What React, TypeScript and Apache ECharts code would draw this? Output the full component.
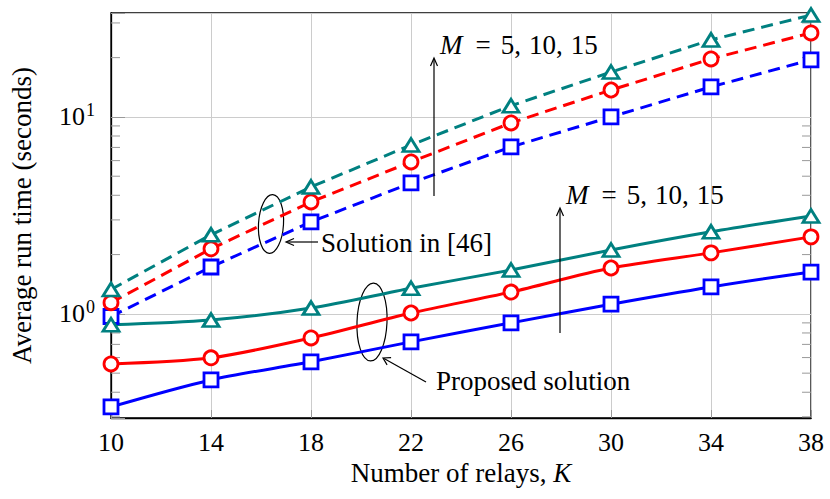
import React, { useEffect, useRef } from "react";
import * as echarts from "echarts";

const relays = ["10", "14", "18", "22", "26", "30", "34", "38"];
const refM15 = [1.33, 2.52, 4.41, 7.2, 11.4, 16.9, 24.6, 32.9];
const refM10 = [1.14, 2.14, 3.7, 5.91, 9.32, 13.7, 19.7, 26.7];
const refM5 = [0.97, 1.73, 2.93, 4.62, 7.04, 10.0, 14.2, 19.5];
const propM15 = [0.88, 0.93, 1.07, 1.35, 1.67, 2.11, 2.61, 3.14];
const propM10 = [0.557, 0.598, 0.755, 1.01, 1.29, 1.71, 2.04, 2.46];
const propM5 = [0.337, 0.462, 0.571, 0.721, 0.9, 1.12, 1.37, 1.63];
const minorTicks = [0.3, 0.4, 0.5, 0.6, 0.7, 0.8, 0.9, 2, 3, 4, 5, 6, 7, 8, 9, 20, 30];
const yMin = 0.296;
const yMax = 33.7;

const FONT = "'Liberation Serif', 'Times New Roman', serif";
const TEAL = "#008080";
const RED = "#ff0000";
const BLUE = "#0000ff";
const FS = 27;

function series(name: string, data: number[], color: string, symbol: string, dashed: boolean) {
  const isTri = symbol === "triangle";
  return {
    name,
    type: "line",
    data,
    smooth: dashed ? false : 0.3,
    symbol,
    symbolSize: isTri ? [16, 13] : 14,
    showAllSymbol: true,
    lineStyle: { color, width: 3, type: dashed ? [12, 7] : "solid" },
    itemStyle: { color: "#ffffff", borderColor: color, borderWidth: 2.8 },
    z: 3,
  };
}

export default function App() {
  const ref = useRef<HTMLDivElement>(null);
  useEffect(() => {
    const chart = echarts.init(ref.current!, undefined, { renderer: "svg" });
    const isPow = (v: number) => {
      const l = Math.log10(v);
      return Math.abs(l - Math.round(l)) < 1e-6;
    };
    const richText = {
      i: { fontStyle: "italic", fontSize: FS, fontFamily: FONT, fill: "#000" },
      n: { fontSize: FS, fontFamily: FONT, fill: "#000" },
      e: { fontSize: FS, fontFamily: FONT, fill: "#000", padding: [0, 10, 0, 13] },
      c: { fontSize: FS, fontFamily: FONT, fill: "#000", padding: [0, 0, 0, 8] },
    };
    const txt = (text: string, x: number, y: number) => ({
      type: "text",
      x,
      y,
      style: {
        text,
        fontSize: FS,
        fontFamily: FONT,
        fill: "#000",
        align: "left",
        verticalAlign: "middle",
        rich: richText,
      },
      z: 10,
    });
    const mText = "{i|M}{e|=}{n|5,}{c|10,}{c|15}";
    const stroke = { stroke: "#000", lineWidth: 1.2, fill: "none" };
    chart.setOption({
      animation: false,
      backgroundColor: "#ffffff",
      grid: {
        left: 107,
        right: 19,
        top: 13,
        bottom: 81,
        show: true,
        borderColor: "#000",
        borderWidth: 1.3,
        backgroundColor: "transparent",
      },
      xAxis: {
        type: "category",
        data: relays,
        boundaryGap: false,
        name: "{n|Number of relays, }{i|K}",
        nameLocation: "middle",
        nameGap: 37,
        nameTextStyle: {
          rich: {
            n: { fontSize: FS, fontFamily: FONT, color: "#000" },
            i: { fontSize: FS, fontFamily: FONT, color: "#000", fontStyle: "italic" },
          },
        },
        axisLine: { show: true, lineStyle: { color: "#000", width: 1.3 } },
        axisTick: { show: true, inside: true, length: 8, lineStyle: { color: "#999" } },
        axisLabel: { color: "#000", fontSize: 26, fontFamily: FONT, margin: 11 },
        splitLine: { show: true, lineStyle: { color: "#cccccc", width: 1 } },
      },
      yAxis: {
        type: "log",
        logBase: 10,
        min: yMin,
        max: yMax,
        name: "Average run time (seconds)",
        nameLocation: "middle",
        nameGap: 76,
        nameTextStyle: { fontSize: FS, fontFamily: FONT, color: "#000" },
        axisLine: { show: true, lineStyle: { color: "#000", width: 1.3 } },
        axisTick: { show: true, inside: true, length: 14, lineStyle: { color: "#999" } },
        splitLine: { show: true, lineStyle: { color: "#cccccc", width: 1 } },
        axisLabel: {
          margin: 16,
          color: "#000",
          formatter: (v: number) => (isPow(v) ? `{b|10}{s|${Math.round(Math.log10(v))}}` : ""),
          rich: {
            b: { fontSize: 26, fontFamily: FONT, color: "#000" },
            s: { fontSize: 18, fontFamily: FONT, color: "#000", padding: [0, 0, 14, 1] },
          },
        },
      },
      series: [
        {
          type: "custom",
          data: minorTicks.map((v) => [0, v]),
          silent: true,
          z: 1,
          renderItem: (params: any, api: any) => {
            const v = api.value(1);
            const p = api.coord([0, v]);
            const cs = params.coordSys;
            const left = cs.x;
            const right = cs.x + cs.width;
            const st = { stroke: "#999", lineWidth: 1 };
            return {
              type: "group",
              children: [
                { type: "line", shape: { x1: left, y1: p[1], x2: left + 9, y2: p[1] }, style: st },
                { type: "line", shape: { x1: right - 9, y1: p[1], x2: right, y2: p[1] }, style: st },
              ],
            };
          },
        },
        series("ref M=5", refM5, BLUE, "rect", true),
        series("ref M=10", refM10, RED, "circle", true),
        series("ref M=15", refM15, TEAL, "triangle", true),
        series("prop M=5", propM5, BLUE, "rect", false),
        series("prop M=10", propM10, RED, "circle", false),
        series("prop M=15", propM15, TEAL, "triangle", false),
      ],
      graphic: [
        { type: "ellipse", x: 271, y: 224, rotation: -0.06, shape: { cx: 0, cy: 0, rx: 12.5, ry: 29.5 }, style: stroke, z: 1 },
        { type: "ellipse", x: 372, y: 322, rotation: -0.04, shape: { cx: 0, cy: 0, rx: 15, ry: 39 }, style: stroke, z: 1 },
        { type: "line", shape: { x1: 434, y1: 196, x2: 434, y2: 59 }, style: stroke, z: 10 },
        { type: "polyline", shape: { points: [[430.5, 66], [434, 58], [437.5, 66]] }, style: stroke, z: 10 },
        { type: "line", shape: { x1: 560, y1: 333, x2: 560, y2: 209 }, style: stroke, z: 10 },
        { type: "polyline", shape: { points: [[556.5, 216], [560, 208], [563.5, 216]] }, style: stroke, z: 10 },
        { type: "line", shape: { x1: 318, y1: 242, x2: 287, y2: 242 }, style: stroke, z: 10 },
        { type: "polyline", shape: { points: [[294, 238.5], [286, 242], [294, 245.5]] }, style: stroke, z: 10 },
        { type: "line", shape: { x1: 426, y1: 382, x2: 384, y2: 358.5 }, style: stroke, z: 10 },
        { type: "polyline", shape: { points: [[391.1, 357.6], [383, 358], [387.1, 364.9]] }, style: stroke, z: 10 },
        txt(mText, 440, 45),
        txt(mText, 566, 195),
        txt("Solution in [46]", 321, 243),
        txt("Proposed solution", 436, 381),
      ],
    });
    return () => chart.dispose();
  }, []);
  return <div ref={ref} style={{ position: "fixed", left: 0, top: 0, width: 830, height: 499 }} />;
}
